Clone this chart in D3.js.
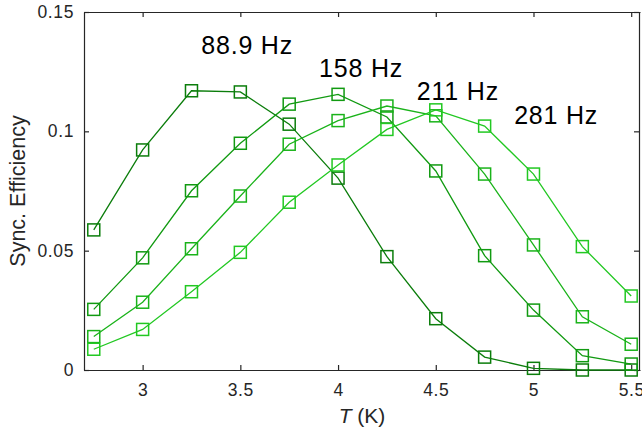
<!DOCTYPE html>
<html>
<head>
<meta charset="utf-8">
<script src="https://cdn.jsdelivr.net/npm/d3@7"></script>
<style>
  body { margin: 0; background: #fff; }
  text { font-family: "Liberation Sans", Arial, sans-serif; }
</style>
</head>
<body>
<div id="container"></div>
<script>
/* CONSTANTS AND GLOBALS */
const width = 642;
const height = 434;
const margin = { top: 12, right: 2, bottom: 64, left: 84 };

/* DATA */
const temps = [2.75, 3, 3.25, 3.5, 3.75, 4, 4.25, 4.5, 4.75, 5, 5.25, 5.5];
const freqs = ["88.9 Hz", "158 Hz", "211 Hz", "281 Hz"];
const eff889 = [0.0587, 0.0922, 0.1170, 0.1165, 0.1030, 0.0804, 0.0475, 0.0215, 0.0054, 0.0007, 0.0000, 0.0000];
const eff158 = [0.0254, 0.0470, 0.0751, 0.0950, 0.1114, 0.1155, 0.1060, 0.0834, 0.0479, 0.0251, 0.0060, 0.0025];
const eff211 = [0.0140, 0.0284, 0.0508, 0.0729, 0.0946, 0.1045, 0.1106, 0.1065, 0.0821, 0.0524, 0.0223, 0.0108];
const eff281 = [0.0087, 0.0170, 0.0328, 0.0493, 0.0703, 0.0859, 0.1008, 0.1090, 0.1022, 0.0821, 0.0517, 0.0310];
const xTicks = [3, 3.5, 4, 4.5, 5, 5.5];
const yTicks = [0, 0.05, 0.1, 0.15];
// annotation anchors, in data units (left edge, baseline)
const labelX = [3.30, 3.903, 4.403, 4.901];
const labelY = [0.1324, 0.1226, 0.1131, 0.1031];

const colors = ["#0b7d0b", "#119a11", "#1ab31a", "#22c822"];
const series = [eff889, eff158, eff211, eff281].map((vals, i) => ({
  name: freqs[i],
  color: colors[i],
  points: temps.map((t, j) => ({ t: t, v: vals[j] }))
}));

/* SCALES */
const xScale = d3.scaleLinear()
  .domain([2.7, 5.545])
  .range([margin.left, width - margin.right]);

const yScale = d3.scaleLinear()
  .domain([0, 0.15])
  .range([height - margin.bottom, margin.top]);

/* SVG */
const svg = d3.select("#container")
  .append("svg")
  .attr("width", width)
  .attr("height", height);

const axisColor = "#262626";
const tickFmt = d => d === 0 ? "0" : d3.format("")(d);

// bottom axis
const xAxis = svg.append("g")
  .attr("transform", `translate(0,${yScale(0)})`)
  .call(d3.axisBottom(xScale).tickValues(xTicks).tickSize(-5).tickSizeOuter(0).tickPadding(14).tickFormat(tickFmt));

// top axis
const xAxisTop = svg.append("g")
  .attr("transform", `translate(0,${yScale(0.15)})`)
  .call(d3.axisTop(xScale).tickValues(xTicks).tickSize(-5).tickSizeOuter(0).tickFormat(""));

// left axis
const yAxis = svg.append("g")
  .attr("transform", `translate(${xScale(2.7)},0)`)
  .call(d3.axisLeft(yScale).tickValues(yTicks).tickSize(-5).tickSizeOuter(0).tickPadding(10).tickFormat(tickFmt));

// right axis
const yAxisRight = svg.append("g")
  .attr("transform", `translate(${xScale(5.545) - 1},0)`)
  .call(d3.axisRight(yScale).tickValues(yTicks).tickSize(-5).tickSizeOuter(0).tickFormat(""));

[xAxis, xAxisTop, yAxis, yAxisRight].forEach(g => {
  g.selectAll("path").attr("stroke", axisColor).attr("stroke-width", 1.2);
  g.selectAll("line").attr("stroke", axisColor).attr("stroke-width", 1.2);
  g.selectAll("text")
    .attr("fill", axisColor)
    .style("font-size", "17.5px")
    .style("letter-spacing", "0.6px")
    .style("font-family", '"Liberation Sans", Arial, sans-serif');
});

// lines + markers
const line = d3.line()
  .x(d => xScale(d.t))
  .y(d => yScale(d.v));

const groups = svg.selectAll("g.series")
  .data(series)
  .join("g")
  .attr("class", "series");

groups.append("path")
  .attr("d", d => line(d.points))
  .attr("fill", "none")
  .attr("stroke", d => d.color)
  .attr("stroke-width", 1.3);

const sq = 12;
groups.selectAll("rect")
  .data(d => d.points.map(p => ({ ...p, color: d.color })))
  .join("rect")
  .attr("x", d => xScale(d.t) - sq / 2)
  .attr("y", d => yScale(d.v) - sq / 2)
  .attr("width", sq)
  .attr("height", sq)
  .attr("fill", "none")
  .attr("stroke", d => d.color)
  .attr("stroke-width", 1.5);

// frequency labels
svg.selectAll("text.freq")
  .data(freqs)
  .join("text")
  .attr("class", "freq")
  .attr("x", (d, i) => xScale(labelX[i]))
  .attr("y", (d, i) => yScale(labelY[i]))
  .style("font-size", "25px")
  .style("letter-spacing", "0.8px")
  .attr("fill", "#000")
  .text(d => d);

// X label
svg.append("text")
  .attr("text-anchor", "middle")
  .attr("x", (xScale(2.7) + xScale(5.545)) / 2)
  .attr("y", 423)
  .style("font-size", "21px")
  .attr("fill", axisColor)
  .html('<tspan font-style="italic">T</tspan> (K)');

// Y label
svg.append("text")
  .attr("text-anchor", "middle")
  .attr("transform", `translate(25,${(yScale(0) + yScale(0.15)) / 2}) rotate(-90)`)
  .style("font-size", "21.5px")
  .attr("fill", axisColor)
  .text("Sync. Efficiency");
</script>
</body>
</html>
